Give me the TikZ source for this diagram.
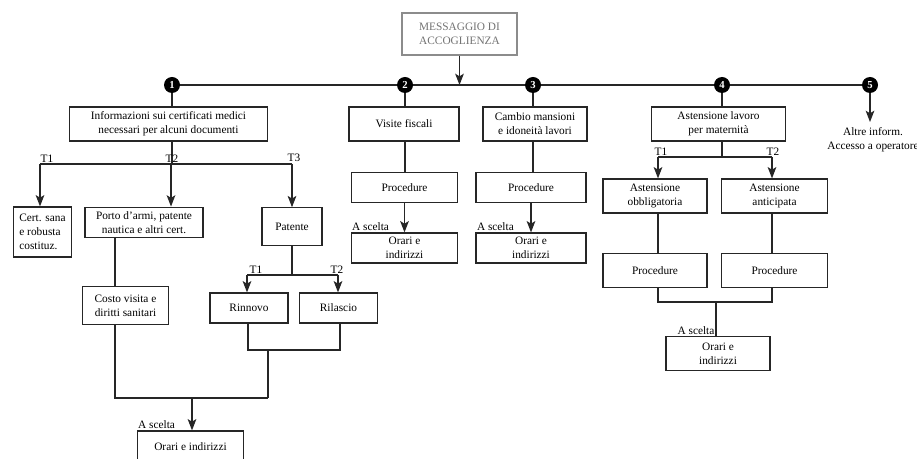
\documentclass[tikz,border=0pt]{standalone}
\usepackage{fontspec}
\setmainfont{Liberation Serif}
\usetikzlibrary{arrows.meta}
\begin{document}
\begin{tikzpicture}[x=0.75pt,y=-0.75pt,
  font=\fontsize{8.5}{10.5}\selectfont,
  line/.style={draw=black!85, line width=0.9pt},
  arr/.style={line, -{Stealth[length=8.5pt,width=6.5pt,inset=2pt]}},
  box/.style={draw=black!85, line width=0.9pt, align=center, inner sep=1pt},
  num/.style={circle, fill=black, text=white, inner sep=0pt, minimum size=12pt, font=\fontsize{8}{9}\selectfont\bfseries},
  lbl/.style={inner sep=1pt},
  stepT/.style={inner sep=0.5pt}]
\useasboundingbox (0,0) rectangle (917,459);
\fill[white] (0,0) rectangle (917,459);

% header
\node[draw=black!45, line width=1.3pt, text=black!55, align=center, minimum width=86pt, minimum height=31pt, inner sep=1pt] (msg) at (459.5,34) {MESSAGGIO DI\\ACCOGLIENZA};

% main line with numbered circles
\coordinate (c1p) at (172,85);
\coordinate (c5p) at (870,85);
\coordinate (join) at (459.5,85);
\draw[line] (c1p) -- (c5p);
\draw[arr] (msg.south) -- (join);
\node[num] (c1) at (172,85) {1};
\node[num] (c2) at (405,85) {2};
\node[num] (c3) at (533,85) {3};
\node[num] (c4) at (722,85) {4};
\node[num] (c5) at (870,85) {5};

% column 1
\node[box, minimum width=148pt, minimum height=25.5pt] (info) at (168.5,124) {Informazioni sui certificati medici\\necessari per alcuni documenti};
\node[box, minimum width=44pt, minimum height=37.5pt, align=left] (cert) at (42.5,232) {Cert. sana\\e robusta\\costituz.};
\node[box, minimum width=88.5pt, minimum height=23pt] (porto) at (144,222.5) {Porto d'armi, patente\\nautica e altri cert.};
\node[box, minimum width=45pt, minimum height=28pt] (patente) at (292,226.5) {Patente};
\node[box, minimum width=64pt, minimum height=28pt] (costo) at (125.5,305.5) {Costo visita e\\diritti sanitari};
\node[box, minimum width=58.5pt, minimum height=22.5pt] (rinnovo) at (249,308) {Rinnovo};
\node[box, minimum width=59pt, minimum height=22.5pt] (rilascio) at (338.5,308) {Rilascio};
\node[box, minimum width=80pt, minimum height=24pt] (orari1) at (190.5,447) {Orari e indirizzi};

\coordinate (t1) at (40,164);
\coordinate (t2) at (171,164);
\coordinate (t3) at (292,164);
\draw[line] (info.south -| c1) -- (c1 |- t1);
\draw[line] (c1) -- (info.north -| c1);
\draw[line] (t1) -- (t3);
\draw[arr] (t1) -- (t1 |- cert.north);
\draw[arr] (t2) -- (t2 |- porto.north);
\draw[arr] (t3) -- (t3 |- patente.north);
\node[stepT, anchor=south] (l11) at (47,163) {T1};
\node[stepT, anchor=south] (l12) at (172,163) {T2};
\node[stepT, anchor=south] (l13) at (294,163) {T3};

\coordinate (v1) at (115,0);
\draw[line] (porto.south -| v1) -- (costo.north -| v1);

\coordinate (p1) at (247,275);
\coordinate (p2) at (338,275);
\draw[line] (patente.south) -- (patente.south |- p1);
\draw[line] (p1) -- (p2);
\draw[arr] (p1) -- (p1 |- rinnovo.north);
\draw[arr] (p2) -- (p2 |- rilascio.north);
\node[stepT, anchor=south] (l21) at (256,274) {T1};
\node[stepT, anchor=south] (l22) at (337,274) {T2};

\coordinate (r1) at (248,350);
\coordinate (r2) at (340,350);
\coordinate (r3) at (268,350);
\coordinate (m1) at (115,398);
\coordinate (m2) at (268,398);
\coordinate (m3) at (192,398);
\draw[line] (rinnovo.south -| r1) -- (r1) -- (r2) -- (rilascio.south -| r2);
\draw[line] (r3) -- (m2);
\draw[line] (costo.south -| m1) -- (m1) -- (m2);
\draw[arr] (m3) -- (m3 |- orari1.north);
\node[lbl, anchor=south west] (s1) at (orari1.north west) {A scelta};

% column 2
\node[box, minimum width=82.5pt, minimum height=25.5pt] (visite) at (404,124) {Visite fiscali};
\node[box, minimum width=80pt, minimum height=22pt] (proc2) at (404.5,187.5) {Procedure};
\node[box, minimum width=80pt, minimum height=22.5pt] (orari2) at (404.5,248) {Orari e\\indirizzi};
\draw[line] (c2) -- (visite.north -| c2);
\draw[line] (visite.south -| c2) -- (proc2.north -| c2);
\draw[arr] (proc2.south) -- (orari2.north);
\node[lbl, anchor=south west] (s2) at (orari2.north west) {A scelta};

% column 3
\node[box, minimum width=78pt, minimum height=25.5pt] (cambio) at (535,124) {Cambio mansioni\\e idoneità lavori};
\node[box, minimum width=82.5pt, minimum height=22pt] (proc3) at (531,187.5) {Procedure};
\node[box, minimum width=82.5pt, minimum height=22.5pt] (orari3) at (531,248) {Orari e\\indirizzi};
\draw[line] (c3) -- (cambio.north -| c3);
\draw[line] (cambio.south -| c3) -- (proc3.north -| c3);
\draw[arr] (proc3.south) -- (orari3.north);
\node[lbl, anchor=south west] (s3) at (orari3.north west) {A scelta};

% column 4
\node[box, minimum width=100pt, minimum height=25.5pt] (asten) at (718.5,124) {Astensione lavoro\\per maternità};
\node[box, minimum width=78pt, minimum height=25.5pt] (obbl) at (655,196) {Astensione\\obbligatoria};
\node[box, minimum width=80pt, minimum height=25.5pt] (antic) at (774.5,196) {Astensione\\anticipata};
\node[box, minimum width=78pt, minimum height=25pt] (proc4a) at (655,270.5) {Procedure};
\node[box, minimum width=80pt, minimum height=25pt] (proc4b) at (774.5,270.5) {Procedure};
\node[box, minimum width=78pt, minimum height=25pt] (orari4) at (718,353.5) {Orari e\\indirizzi};

\coordinate (a1) at (658,157);
\coordinate (a2) at (772,157);
\draw[line] (c4) -- (asten.north -| c4);
\draw[line] (asten.south -| c4) -- (c4 |- a1);
\draw[line] (a1) -- (a2);
\draw[arr] (a1) -- (a1 |- obbl.north);
\draw[arr] (a2) -- (a2 |- antic.north);
\node[stepT, anchor=south] (l41) at (661,156) {T1};
\node[stepT, anchor=south] (l42) at (773,156) {T2};
\draw[line] (obbl.south -| a1) -- (proc4a.north -| a1);
\draw[line] (antic.south -| a2) -- (proc4b.north -| a2);
\coordinate (b1) at (658,302);
\coordinate (b2) at (772,302);
\coordinate (b3) at (716,302);
\draw[line] (proc4a.south -| b1) -- (b1) -- (b2) -- (proc4b.south -| b2);
\draw[line] (b3) -- (b3 |- orari4.north);
\node[lbl, anchor=south east] (s4) at (b3 |- orari4.north) {A scelta};

% column 5
\coordinate (e5) at (870,122);
\draw[arr] (c5) -- (e5);
\node[lbl, anchor=north, align=center] (altre) at (873,126) {Altre inform.\\Accesso a operatore};
\end{tikzpicture}
\end{document}
